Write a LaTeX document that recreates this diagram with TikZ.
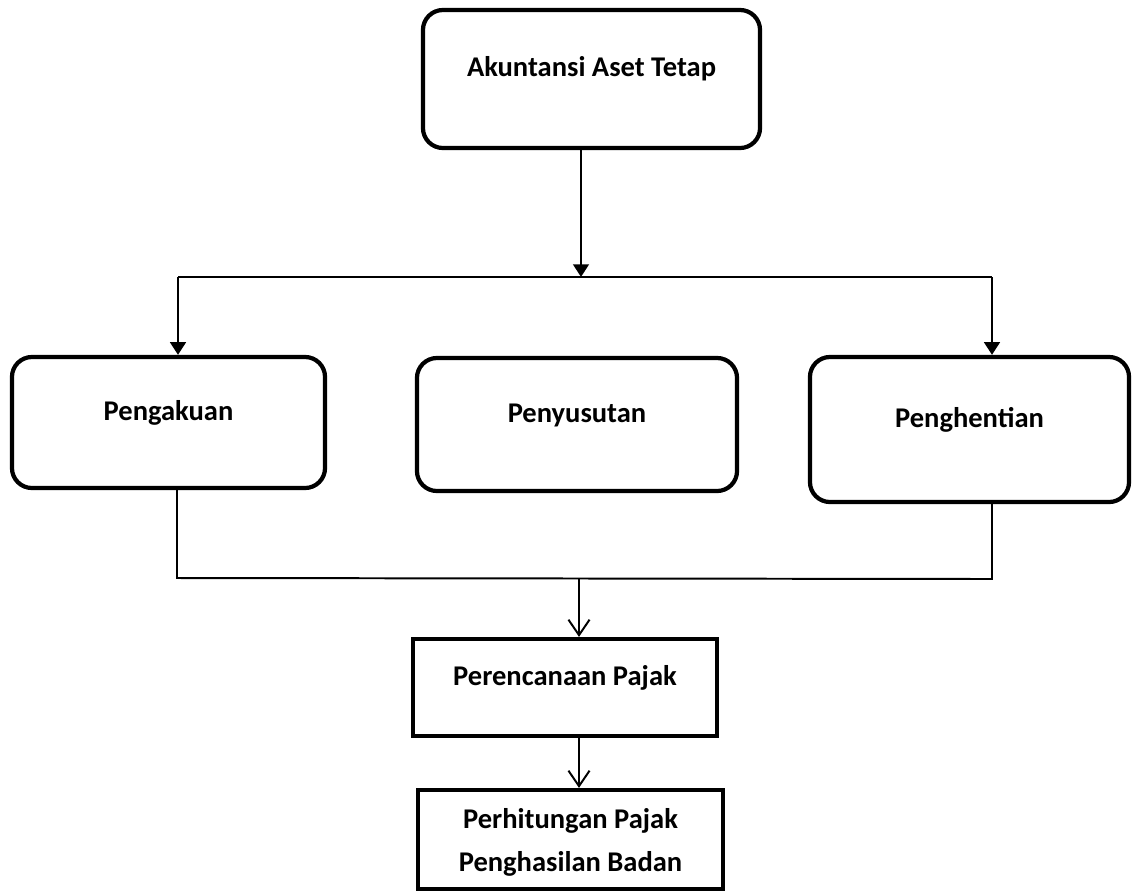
\documentclass[tikz,border=0pt]{standalone}
\usepackage{fontspec}
\setmainfont{Carlito}
\usetikzlibrary{arrows.meta}
\usetikzlibrary{positioning}

\tikzset{
  kotakbulat/.style={draw, line width=3pt, rounded corners=0.5cm, align=center,
    text height=0.75em, text depth=1.1em},
  kotak/.style={draw, line width=3pt, align=center},
  panahtebal/.style={line width=2pt, arrows = -{Triangle[length=9pt,width=11pt]}},
  panahtipis/.style={line width=1.4pt, arrows = -{Straight Barb[length=11pt,width=15pt]}},
  garis/.style={line width=1.4pt}
}

\begin{document}
\begin{tikzpicture}[x=0.025cm, y=-0.025cm, font=\fontsize{20.3}{30.6}\selectfont\bfseries]

            %\draw [help lines] (0,0) grid (1133,890);
            \useasboundingbox (0,0) rectangle (1133,890);

            \path   (591.5,79) node (akt) [kotakbulat, minimum width=8.425cm, minimum height=3.45cm] {Akuntansi Aset Tetap}
                    (168.5,422.5) node (pengakuan) [kotakbulat, minimum width=7.825cm, minimum height=3.275cm] {Pengakuan}
                    (577,424.5) node (penyusutan) [kotakbulat, minimum width=8cm, minimum height=3.325cm] {Penyusutan}
                    (969.5,429.5) node (penghentian) [kotakbulat, minimum width=7.975cm, minimum height=3.625cm] {Penghentian}
                    (565,687.5) node (perencanaan) [kotak, minimum width=7.6cm, minimum height=2.425cm,
                        text height=0.75em, text depth=1.1em] {Perencanaan Pajak}
                    (570.5,839.5) node (perhitungan) [kotak, minimum width=7.625cm, minimum height=2.475cm,
                        text depth=-0.3em] {Perhitungan Pajak\\Penghasilan Badan};

            % titik cabang
            \coordinate (cabang) at (581,277);
            \coordinate (cabkiri) at (178,277);
            \coordinate (cabkanan) at (992,277);
            \coordinate (gabkiri) at (177,578);
            \coordinate (gabtengah) at (579,578);
            \coordinate (gabkanan) at (992,579);

            \draw[panahtebal] (akt.south -| cabang) -- (cabang);
            \draw[line width=2pt] (cabkiri) -- (cabkanan);
            \draw[panahtebal] (cabkiri) -- (cabkiri |- pengakuan.north);
            \draw[panahtebal] (cabkanan) -- (cabkanan |- penghentian.north);

            \draw[garis] (gabkiri |- pengakuan.south) -- (gabkiri) -- (gabkanan) -- (gabkanan |- penghentian.south);
            \draw[panahtipis] (gabtengah) -- (gabtengah |- perencanaan.north);
            \draw[panahtipis] (perencanaan.south -| gabtengah) -- (perhitungan.north -| gabtengah);

        \end{tikzpicture}
\end{document}
